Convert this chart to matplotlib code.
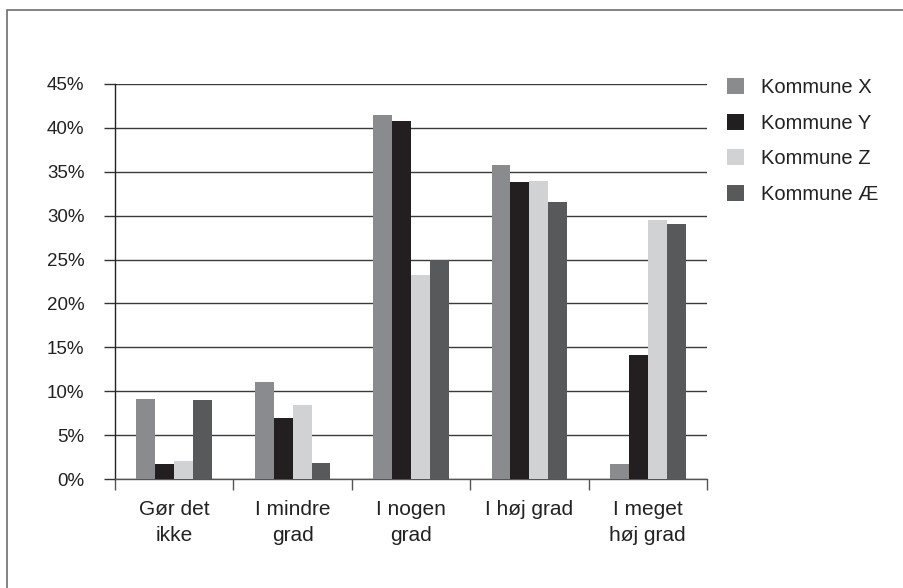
import matplotlib
matplotlib.use("Agg")
import matplotlib.pyplot as plt
import numpy as np
from matplotlib.patches import Rectangle

categories = ["Gør det\nikke", "I mindre\ngrad", "I nogen\ngrad", "I høj grad", "I meget\nhøj grad"]
series_names = ["Kommune X", "Kommune Y", "Kommune Z", "Kommune Æ"]
kommune_x = [9.1, 11.0, 41.5, 35.8, 1.7]
kommune_y = [1.7, 7.0, 40.8, 33.8, 14.1]
kommune_z = [2.1, 8.4, 23.2, 33.9, 29.5]
kommune_ae = [9.0, 1.8, 24.9, 31.6, 29.0]
y_ticks = [0, 5, 10, 15, 20, 25, 30, 35, 40, 45]
y_tick_labels = [f"{v}%" for v in y_ticks]

colors = ["#8a8b8f", "#231f20", "#d1d2d4", "#58595b"]
series = [kommune_x, kommune_y, kommune_z, kommune_ae]

plt.rcParams["font.family"] = ["Liberation Sans", "DejaVu Sans"]

fig = plt.figure(figsize=(9.04, 5.88), dpi=100)
ax = fig.add_axes([115 / 904, 1 - 479 / 588, (707 - 115) / 904, (479 - 84) / 588])

# outer frame around the chart
fig.patches.append(Rectangle((7 / 904, -0.05), 1.1, 1 - 10 / 588 + 0.05,
                             transform=fig.transFigure, fill=False,
                             edgecolor="#6e6e6e", linewidth=1.2))

x = np.arange(len(categories))
bar_w = 0.16
for i, (vals, name, c) in enumerate(zip(series, series_names, colors)):
    ax.bar(x + (i - 1.5) * bar_w, vals, width=bar_w, color=c, label=name, zorder=3)

ax.set_xlim(-0.5, len(categories) - 0.5)
ax.set_ylim(0, 45)
ax.set_yticks(y_ticks)
ax.set_yticklabels(y_tick_labels, fontsize=13.5, color="#222222")
ax.yaxis.grid(True, color="#3a3a3a", linewidth=1.0, zorder=0)
ax.set_axisbelow(True)

ax.set_xticks(x)
ax.set_xticklabels(categories, fontsize=15, color="#222222", linespacing=1.45)
ax.set_xticks(np.arange(-0.5, len(categories)), minor=True)
ax.tick_params(axis="x", which="major", length=0, pad=15)
ax.tick_params(axis="x", which="minor", length=8, width=1, color="#555555", direction="out")
ax.tick_params(axis="y", length=8, width=1, color="#333333", direction="out", pad=14)

for s in ["top", "right"]:
    ax.spines[s].set_visible(False)
ax.spines["left"].set_color("#222222")
ax.spines["bottom"].set_color("#555555")
ax.spines["left"].set_linewidth(1.0)
ax.spines["bottom"].set_linewidth(1.0)

leg = fig.legend(loc="upper left", bbox_to_anchor=(727 / 904, 1 - 78 / 588),
                 frameon=False, fontsize=14.5, handlelength=0.85, handleheight=0.85,
                 handletextpad=0.85, labelspacing=0.82, borderpad=0, borderaxespad=0)
for t in leg.get_texts():
    t.set_color("#222222")

fig.savefig("out.png", dpi=100)
